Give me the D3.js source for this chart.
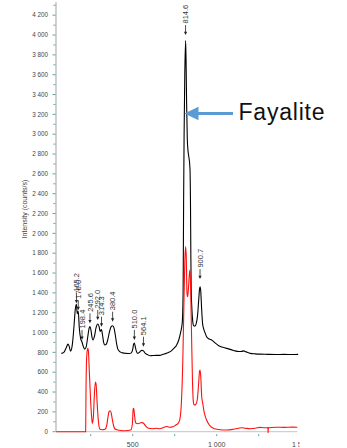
<!DOCTYPE html>
<meta charset="utf-8">
<style>
  body { margin: 0; background: #fff; }
  svg { position: absolute; left: 0; top: 0; }
  text { font-family: 'Liberation Sans', Arial, sans-serif; }
  .tick-label { font-size: 6.3px; fill: #444; }
  .peak-label { font-size: 7.5px; fill: #333; }
</style>
<script src="https://d3js.org/d3.v7.min.js"></script>
<svg width="347" height="448"></svg>
<script>
// black spectrum (raman shift, counts/s)
var blackShift = [75, 90, 105, 115, 122, 130, 140, 150, 158, 165, 170, 176, 182, 190, 198, 206, 214, 222, 232, 240, 246, 252, 258, 264, 272, 282, 292, 300, 306, 314, 320, 327, 334, 342, 352, 362, 372, 380, 388, 396, 404, 412, 425, 440, 460, 480, 492, 500, 505, 510, 515, 522, 530, 540, 548, 556, 564, 575, 590, 603, 620, 640, 662, 680, 700, 715, 730, 745, 760, 775, 785, 795, 800, 803, 806, 810, 815, 818, 821, 825, 830, 836, 841, 844, 846, 848, 852, 857, 862, 870, 878, 886, 893, 898, 901, 905, 910, 916, 922, 930, 940, 955, 970, 990, 1010, 1030, 1050, 1070, 1090, 1110, 1130, 1150, 1160, 1175, 1200, 1230, 1260, 1300, 1350, 1400, 1450, 1485];
var blackVals = [790, 800, 850, 884, 860, 812, 870, 1050, 1230, 1285, 1190, 1215, 1050, 940, 905, 860, 832, 850, 950, 1040, 1060, 1020, 950, 925, 960, 1050, 1086, 1060, 1010, 1030, 980, 900, 874, 880, 930, 1010, 1060, 1068, 1050, 980, 890, 830, 805, 795, 790, 788, 795, 830, 880, 895, 860, 810, 790, 800, 815, 820, 815, 790, 775, 766, 768, 770, 770, 780, 790, 800, 815, 840, 870, 930, 1000, 1100, 1400, 2300, 3000, 3600, 3945, 3700, 3300, 2950, 2820, 2750, 2650, 2300, 1800, 1450, 1250, 1120, 1070, 1065, 1090, 1170, 1330, 1440, 1462, 1420, 1250, 1090, 1040, 1000, 958, 935, 925, 895, 870, 855, 845, 835, 825, 815, 808, 810, 815, 805, 790, 785, 782, 780, 778, 780, 778, 780];

// red spectrum
var redShift = [44, 220, 222, 226, 232, 236, 242, 250, 256, 260, 266, 272, 278, 282, 288, 295, 300, 305, 320, 335, 345, 352, 360, 366, 372, 380, 388, 395, 410, 430, 445, 470, 490, 498, 503, 506, 510, 515, 520, 530, 545, 556, 565, 578, 593, 620, 640, 660, 680, 695, 705, 720, 740, 755, 770, 780, 790, 798, 805, 810, 815, 819, 823, 827, 832, 838, 841, 845, 850, 856, 861, 866, 875, 885, 893, 898, 901, 905, 911, 917, 925, 933, 940, 955, 970, 980, 1000, 1020, 1060, 1100, 1130, 1149, 1170, 1200, 1230, 1258, 1280, 1300, 1305, 1306, 1308, 1350, 1400, 1450, 1480];
var redVals = [0, 0, 400, 750, 840, 820, 600, 300, 140, 84, 150, 380, 500, 480, 300, 120, 50, 24, 20, 25, 60, 140, 205, 212, 190, 110, 50, 27, 18, 12, 10, 12, 20, 80, 230, 236, 180, 110, 84, 80, 88, 92, 85, 55, 34, 30, 35, 30, 40, 50, 52, 45, 50, 65, 84, 120, 300, 700, 1300, 1700, 1866, 1750, 1400, 1361, 1450, 1600, 1630, 1450, 1000, 500, 300, 270, 275, 330, 500, 610, 622, 560, 350, 286, 200, 150, 118, 70, 45, 34, 25, 20, 17, 25, 35, 40, 35, 30, 35, 44, 40, 40, 42, -10, 40, 45, 44, 46, 45];

// peak labels and where their arrows point
var peakNames = ["165.2", "176.0", "198.4", "245.6", "292.0", "314.3", "380.4", "510.0", "564.1", "814.6", "900.7"];
var peakShift = [165.2, 176.0, 198.4, 245.6, 292.0, 314.3, 380.4, 510.0, 564.1, 814.6, 900.7];
var peakTip = [1295, 1225, 925, 1093, 1126, 1059, 1109, 925, 857, 4000, 1539];

var xTicks = [250, 500, 750, 1000, 1250, 1500];
var xLabels = [500, 1000, 1500];
var yMajor = d3.range(0, 4201, 200);
var yMinor = d3.range(100, 4301, 200);

var svg = d3.select("svg");
var x = d3.scaleLinear().domain([0, 1500]).range([48.7, 300.7]);
var y = d3.scaleLinear().domain([0, 4200]).range([431.7, 15.2]);
var fmt = d3.formatLocale({decimal: ".", thousands: " ", grouping: [3], currency: ["", ""]}).format(",");
var teal = "#4a9d9d";

svg.append("defs").append("clipPath").attr("id", "clipx")
  .append("rect").attr("x", 0).attr("y", 0).attr("width", 299.5).attr("height", 448);

// y axis
var ya = svg.append("g");
ya.append("line").attr("x1", 56).attr("x2", 56).attr("y1", y(4330)).attr("y2", y(0))
  .attr("stroke", "#c4c4c4").attr("stroke-width", 1.6);
ya.selectAll(".maj").data(yMajor).enter().append("line")
  .attr("x1", 52.5).attr("x2", 55.5).attr("y1", d => y(d)).attr("y2", d => y(d))
  .attr("stroke", teal).attr("stroke-width", 0.9);
ya.selectAll(".min").data(yMinor).enter().append("line")
  .attr("x1", 53.3).attr("x2", 55.5).attr("y1", d => y(d)).attr("y2", d => y(d))
  .attr("stroke", teal).attr("stroke-width", 0.8);
ya.selectAll("text").data(yMajor).enter().append("text")
  .attr("class", "tick-label").attr("x", 48).attr("y", d => y(d) + 2.2)
  .attr("text-anchor", "end").text(d => fmt(d));
svg.append("text").attr("class", "tick-label").style("font-size", "7px")
  .attr("transform", "translate(27,209) rotate(-90)").attr("text-anchor", "middle")
  .text("Intensity (counts/s)");

// x axis
var xa = svg.append("g").attr("clip-path", "url(#clipx)");
xa.append("line").attr("x1", 56).attr("x2", x(1480)).attr("y1", y(0)).attr("y2", y(0))
  .attr("stroke", "#c4c4c4").attr("stroke-width", 1);
xa.selectAll("line.t").data(xTicks).enter().append("line")
  .attr("x1", d => x(d)).attr("x2", d => x(d)).attr("y1", y(0) + 2.5).attr("y2", y(0) + 4.5)
  .attr("stroke", teal).attr("stroke-width", 0.9);
xa.selectAll("text").data(xLabels).enter().append("text")
  .attr("class", "tick-label").style("font-size", "7px")
  .attr("x", d => x(d)).attr("y", 446.5).attr("text-anchor", "middle").text(d => fmt(d));

// spectra
var line = d3.line().x(d => x(d[0])).y(d => y(d[1])).curve(d3.curveMonotoneX);
svg.append("path").datum(d3.zip(blackShift, blackVals)).attr("d", line)
  .attr("fill", "none").attr("stroke", "#000").attr("stroke-width", 1.1);
svg.append("path").datum(d3.zip(redShift, redVals)).attr("d", line)
  .attr("fill", "none").attr("stroke", "#ff1010").attr("stroke-width", 1.1);

// peak labels
var pk = svg.selectAll("g.pk").data(d3.range(peakNames.length)).enter().append("g")
  .attr("transform", i => "translate(" + x(peakShift[i]) + "," + y(peakTip[i]) + ")");
pk.append("line").attr("x1", 0).attr("x2", 0).attr("y1", -10).attr("y2", -2)
  .attr("stroke", "#222").attr("stroke-width", 0.8);
pk.append("path").attr("d", "M-1.6,-3.4L1.6,-3.4L0,0Z").attr("fill", "#222");
pk.append("text").attr("class", "peak-label")
  .attr("transform", "translate(2.6,-11.5) rotate(-90)").text(i => peakNames[i]);

// Fayalite annotation
var blue = "#5b9bd5";
svg.append("line").attr("x1", 233).attr("x2", 197).attr("y1", 113.5).attr("y2", 113.5)
  .attr("stroke", blue).attr("stroke-width", 3);
svg.append("path").attr("d", "M184.5,113.5L198.5,106.7L198.5,120.3Z").attr("fill", blue);
svg.append("text").attr("x", 238.5).attr("y", 119.5).attr("textLength", 86)
  .style("font-size", "23px").style("fill", "#111").text("Fayalite");
</script>
